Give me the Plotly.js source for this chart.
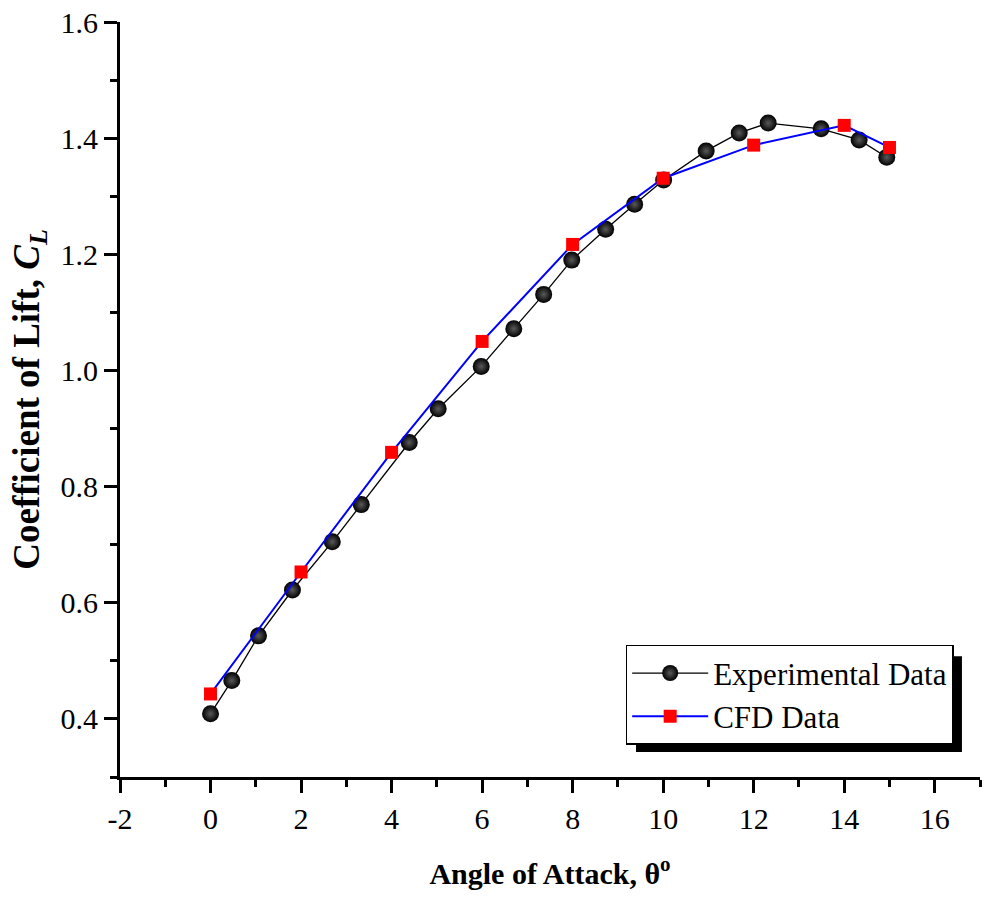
<!DOCTYPE html>
<html>
<head>
<meta charset="utf-8">
<script src="https://cdn.plot.ly/plotly-3.0.1.min.js"></script>
<style>html,body{margin:0;padding:0;background:#fff;}</style>
</head>
<body>
<div id="chart" style="width:985px;height:897px;"></div>
<script>
// Experimental data
const expAngle = [0, 0.47, 1.06, 1.81, 2.69, 3.33, 4.39, 5.03, 5.98, 6.70, 7.36, 7.98, 8.73, 9.37, 10.01, 10.95, 11.68, 12.32, 13.49, 14.33, 14.94];
const expCL    = [0.409, 0.466, 0.543, 0.622, 0.705, 0.769, 0.876, 0.934, 1.007, 1.072, 1.131, 1.190, 1.243, 1.286, 1.328, 1.378, 1.409, 1.426, 1.416, 1.397, 1.367];
// CFD data
const cfdAngle = [0, 2, 4, 6, 8, 10, 12, 14, 15];
const cfdCL    = [0.443, 0.653, 0.859, 1.050, 1.217, 1.331, 1.388, 1.422, 1.384];
// x tick labels (hyphen minus as in the reference)
const xTickVals = [-2, 0, 2, 4, 6, 8, 10, 12, 14, 16];
const xTickText = ['-2', '0', '2', '4', '6', '8', '10', '12', '14', '16'];

const serif = 'Liberation Serif, Times New Roman, serif';

const traces = [
  {
    x: expAngle, y: expCL, type: 'scatter', mode: 'lines+markers',
    name: 'Experimental Data',
    line: {color: 'black', width: 1.3},
    marker: {symbol: 'circle', size: 17, color: 'black',
             gradient: {type: 'radial', color: '#5a5a5a'},
             line: {width: 0}}
  },
  {
    x: cfdAngle, y: cfdCL, type: 'scatter', mode: 'lines+markers',
    name: 'CFD Data',
    line: {color: '#0000ff', width: 2},
    marker: {symbol: 'square', size: 13, color: '#ff0000', line: {width: 0}}
  }
];

const layout = {
  width: 985, height: 897,
  margin: {l: 120, r: 5, t: 22, b: 120},
  paper_bgcolor: 'white', plot_bgcolor: 'white',
  font: {family: serif, color: 'black', size: 30},
  showlegend: true,
  xaxis: {
    range: [-2, 17], tickmode: 'array', tickvals: xTickVals, ticktext: xTickText,
    ticks: 'outside', ticklen: 13, tickwidth: 3, tickcolor: 'black',
    minor: {dtick: 1, tick0: 0, ticks: 'outside', ticklen: 7, tickwidth: 3, tickcolor: 'black'},
    showline: true, linewidth: 3, linecolor: 'black',
    showgrid: false, zeroline: false,
    tickfont: {family: serif, size: 30},
    title: {text: '<b>Angle of Attack, θ<sup>o</sup></b>', font: {family: serif, size: 30}, standoff: 29}
  },
  xaxis2: {
    overlaying: 'x', side: 'top', anchor: 'y', matches: 'x',
    range: [-2, 17], dtick: 2, tick0: 0,
    ticks: 'inside', ticklen: 14, tickwidth: 3, tickcolor: 'black',
    minor: {dtick: 1, ticks: 'inside', ticklen: 7, tickwidth: 3, tickcolor: 'black'},
    showline: true, linewidth: 3, linecolor: 'black',
    showticklabels: false, showgrid: false, zeroline: false
  },
  yaxis: {
    range: [0.3, 1.6], dtick: 0.2, tick0: 0.4,
    ticks: 'outside', ticklen: 13, tickwidth: 3, tickcolor: 'black',
    minor: {dtick: 0.1, ticks: 'outside', ticklen: 7, tickwidth: 3, tickcolor: 'black'},
    showline: true, linewidth: 3, linecolor: 'black',
    showgrid: false, zeroline: false,
    tickformat: '.1f',
    tickfont: {family: serif, size: 30},
    title: {text: '<b>Coefficient of Lift, <i>C<sub>L</sub></i></b>', font: {family: serif, size: 37}, standoff: 10}
  },
  yaxis2: {
    overlaying: 'y', side: 'right', anchor: 'x',
    range: [0.3, 1.6], dtick: 0.1, tick0: 0.3,
    ticks: 'outside', ticklen: 6, tickwidth: 2, tickcolor: '#0000ff',
    showline: true, linewidth: 3, linecolor: '#0000ff',
    showticklabels: false, showgrid: false, zeroline: false
  },
  legend: {
    x: 0.588, y: 0.175, xanchor: 'left', yanchor: 'top',
    bgcolor: 'white', bordercolor: 'black', borderwidth: 1.5,
    font: {family: serif, size: 31, color: 'black'},
    itemwidth: 76, tracegroupgap: 0
  },
  shapes: [
    {type: 'rect', xref: 'paper', yref: 'paper', x0: 0.600, x1: 0.979, y0: 0.033, y1: 0.16,
     fillcolor: 'black', line: {width: 0}, layer: 'above'}
  ]
};

Plotly.newPlot('chart', traces, layout, {displayModeBar: false, staticPlot: true});
</script>
</body>
</html>
